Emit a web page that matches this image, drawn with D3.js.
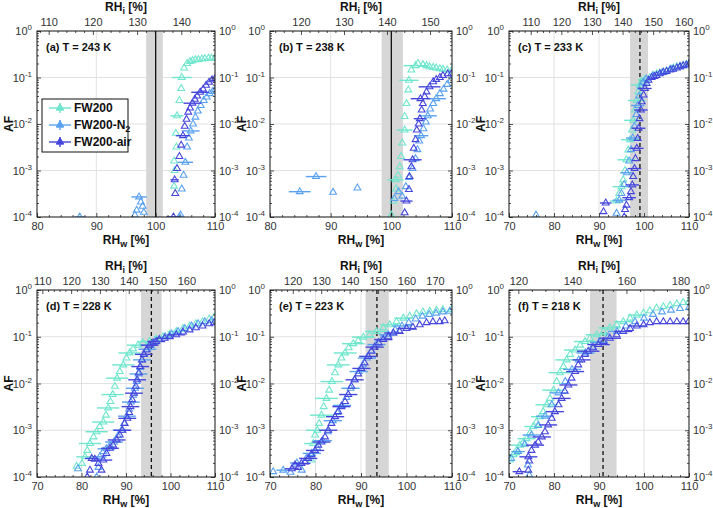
<!DOCTYPE html>
<html><head><meta charset="utf-8">
<script src="https://cdn.jsdelivr.net/npm/d3@7"></script>
<style>body{margin:0;background:#fff}svg text{font-family:"Liberation Sans",Arial,sans-serif}</style>
</head><body><svg id="c" width="713" height="508"></svg>
<script>
// ---------- data ----------
const seriesNames = ["FW200", "FW200-N2", "FW200-air"];
const seriesColors = ["#6fe6cd", "#5aa2f0", "#4646dc"];
const panelTitles = ["(a) T = 243 K", "(b) T = 238 K", "(c) T = 233 K", "(d) T = 228 K", "(e) T = 223 K", "(f) T = 218 K"];
const rhwDomains = [[80,110],[80,110],[70,110],[70,110],[70,110],[70,110]];
const rhwTicks = [[80,90,100,110],[80,90,100,110],[70,80,90,100,110],[70,80,90,100,110],[70,80,90,100,110],[70,80,90,100,110]];
const iceRatio = [1.342, 1.41, 1.47, 1.545, 1.60, 1.665];   // RHi / RHw
const rhiTicks = [[110,120,130,140],[120,130,140,150],[110,120,130,140,150,160],[110,120,130,140,150,160],[120,130,140,150,160,170],[120,140,160,180]];
const rhiMinorStep = [2,2,2,2,2,5];
const afTicks = [1e-4, 1e-3, 1e-2, 1e-1, 1];
const afTickExp = ["-4","-3","-2","-1","0"];
const bandLo = [98.4, 98.4, 96.9, 93.4, 91.0, 88.0];
const bandHi = [101.2, 101.9, 100.9, 98.0, 96.1, 93.9];
const vLine = [100, 100, 99.1, 95.7, 93.5, 90.9];
const vLineDashed = [false, false, true, true, true, true];

// [RHw %, AF, RHw error half-width]
const a_FW200 = [[103.1,4.6e-4,0],[103.2,1.0e-3,0],[103.1,1.6e-3,0],[103.5,3.2e-3,0],[103.4,6.3e-3,0],[103.6,1.5e-2,1.1],[104.0,3.2e-2,0],[104.3,5.8e-2,0],[104.4,1.0e-1,1.7],[104.8,1.6e-1,0],[105.3,2.0e-1,0],[105.8,2.2e-1,0],[106.2,2.3e-1,0],[106.7,2.4e-1,0],[107.2,2.45e-1,0],[107.8,2.5e-1,0],[108.3,2.55e-1,0],[108.9,2.6e-1,0],[109.4,2.6e-1,0],[110.0,2.6e-1,0]];
const a_N2 = [[87.2,1.0e-4,0.8],[96.5,1.1e-4,0],[96.8,1.4e-4,0],[97.2,2.7e-4,1.3],[97.5,2.1e-4,0],[97.8,1.7e-4,0],[98.0,1.26e-4,0],[104.0,1.0e-4,0],[104.2,1.1e-4,0],[104.4,4.0e-4,0],[104.7,7.9e-4,0],[105.0,1.5e-3,1.3],[105.3,3.2e-3,0],[105.6,5.0e-3,0],[105.9,7.1e-3,1.5],[106.3,1.0e-2,0],[106.7,1.4e-2,0],[107.1,1.9e-2,0],[107.6,2.5e-2,0],[108.1,3.2e-2,0],[108.6,3.8e-2,0],[109.1,4.5e-2,0],[109.6,5.0e-2,0],[110.0,5.4e-2,0]];
const a_air = [[103.0,1.0e-4,1.2],[103.3,3.2e-4,0],[103.2,6.3e-4,0.7],[103.6,1.1e-3,0],[104.0,2.0e-3,0],[104.3,3.5e-3,0],[104.6,5.6e-3,1.2],[104.9,8.9e-3,0],[105.2,1.26e-2,0],[105.5,1.8e-2,0],[105.8,2.2e-2,0],[106.2,2.8e-2,1.5],[106.6,3.4e-2,0],[107.0,4.0e-2,0],[107.5,4.8e-2,1.5],[108.0,5.6e-2,0],[108.5,6.8e-2,0],[109.0,7.9e-2,0],[109.5,8.9e-2,0],[110.0,9.5e-2,0]];

const b_FW200 = [[100.0,1.1e-4,0],[100.3,2.2e-4,0],[100.8,4.0e-4,0],[100.7,6.3e-4,1.3],[101.1,7.9e-4,0],[101.4,1.2e-3,0],[101.6,2.0e-3,0],[101.8,3.9e-3,0],[102.2,7.4e-3,1.3],[102.2,1.45e-2,0],[102.5,2.75e-2,0],[102.8,5.4e-2,0],[102.9,8.7e-2,1.6],[103.3,1.45e-1,0],[104.0,1.8e-1,2.0],[104.4,2.0e-1,0],[105.2,1.9e-1,0],[105.8,1.8e-1,0],[106.3,1.7e-1,0],[106.9,1.65e-1,0],[107.4,1.6e-1,0],[108.0,1.55e-1,0],[108.5,1.5e-1,0],[109.2,1.45e-1,0],[109.9,1.4e-1,0]];
const b_N2 = [[84.9,3.5e-4,1.8],[87.6,7.4e-4,1.7],[90.4,3.4e-4,0],[94.4,4.2e-4,0],[100.5,2.5e-4,0],[101.2,3.5e-4,0],[101.8,2.8e-4,0],[102.4,4.5e-4,0],[102.9,7.1e-4,0],[103.5,1.1e-3,0],[104.0,1.8e-3,0],[104.3,2.8e-3,0],[104.6,4.3e-3,0],[104.9,5.6e-3,1.2],[105.3,7.9e-3,0],[105.7,1.1e-2,0],[106.0,1.5e-2,1.5],[106.4,2.1e-2,0],[106.9,2.75e-2,0],[107.4,3.5e-2,1.6],[108.0,4.5e-2,0],[108.6,5.6e-2,0],[109.2,7.1e-2,0],[109.8,8.7e-2,0]];
const b_air = [[102.2,1.23e-4,0],[102.5,2.2e-4,1.0],[102.9,3.9e-4,0],[103.0,7.4e-4,0],[103.3,1.2e-3,0],[103.5,1.7e-3,1.5],[103.7,3.0e-3,0],[104.0,4.6e-3,0],[104.2,7.4e-3,0],[104.5,1.0e-2,0],[104.7,1.3e-2,1.0],[105.0,2.0e-2,0],[105.2,2.75e-2,0],[104.8,3.5e-2,1.6],[105.5,3.9e-2,0],[105.8,4.9e-2,0],[106.3,6.3e-2,1.8],[106.9,8.1e-2,0],[107.4,9.1e-2,0],[108.0,1.0e-1,0],[108.5,1.1e-1,0],[109.3,1.2e-1,0],[109.9,1.2e-1,0]];

const c_FW200 = [[93.9,2.2e-4,1.5],[94.5,3.2e-4,0],[95.0,4.5e-4,2.0],[95.4,6.3e-4,0],[95.8,1.0e-3,0],[96.1,1.7e-3,2.0],[96.5,2.75e-3,0],[96.9,4.6e-3,2.0],[97.3,7.4e-3,0],[97.6,1.2e-2,2.0],[98.0,2.0e-2,0],[98.4,3.2e-2,2.0],[98.7,4.9e-2,0],[99.1,6.9e-2,2.0],[99.5,8.3e-2,0],[100.2,9.1e-2,1.5],[101.3,1.0e-1,0],[102.0,1.1e-1,0],[102.8,1.2e-1,0],[103.5,1.25e-1,0],[104.3,1.3e-1,0],[105.0,1.4e-1,0],[105.8,1.5e-1,0],[106.5,1.6e-1,0],[107.3,1.7e-1,0],[108.0,1.75e-1,0],[108.7,1.8e-1,0],[109.4,1.9e-1,0],[110.0,2.0e-1,0]];
const c_N2 = [[76.0,1.1e-4,0],[93.9,1.2e-4,0],[94.5,2.3e-4,1.5],[95.0,3.2e-4,0],[95.6,5.0e-4,0],[96.2,8.9e-4,1.5],[96.7,1.6e-3,0],[97.1,2.8e-3,0],[97.5,5.0e-3,1.5],[97.9,8.9e-3,0],[98.3,1.6e-2,0],[98.6,2.5e-2,1.5],[98.9,4.0e-2,0],[99.3,6.3e-2,0],[99.8,7.9e-2,0],[100.5,9.3e-2,0],[102.0,1.1e-1,0],[104.0,1.26e-1,0],[106.0,1.5e-1,0],[108.0,1.7e-1,0],[110.0,1.9e-1,0]];
const c_air = [[91.0,1.3e-4,0],[91.5,2.0e-4,1.3],[95.6,1.0e-4,0],[95.8,1.45e-4,0],[96.1,1.8e-4,0],[96.7,2.6e-4,1.5],[97.1,3.5e-4,0],[97.4,4.9e-4,1.5],[97.6,7.4e-4,0],[97.9,1.1e-3,1.5],[98.1,1.8e-3,0],[98.4,3.0e-3,1.5],[98.6,4.9e-3,0],[98.8,8.1e-3,1.5],[99.0,1.3e-2,0],[99.3,2.0e-2,1.5],[99.5,3.0e-2,0],[99.9,4.2e-2,0],[100.2,5.8e-2,1.5],[100.6,7.4e-2,0],[101.0,8.7e-2,0],[101.7,1.0e-1,0],[102.3,1.05e-1,0],[102.8,1.1e-1,0],[103.5,1.2e-1,0],[104.3,1.3e-1,0],[105.0,1.35e-1,0],[105.8,1.45e-1,0],[106.5,1.5e-1,0],[107.3,1.6e-1,0],[108.0,1.7e-1,0],[108.7,1.8e-1,0],[109.4,1.85e-1,0],[110.0,1.95e-1,0]];

const d_FW200 = [[78.9,1.7e-4,0],[80.1,1.95e-4,0],[80.8,2.7e-4,2.0],[81.3,3.7e-4,0],[81.9,5.2e-4,2.5],[82.7,7.2e-4,0],[83.4,9.3e-4,2.5],[84.1,1.2e-3,0],[84.9,1.5e-3,2.5],[85.5,2.1e-3,0],[86.0,3.0e-3,2.5],[86.5,4.1e-3,0],[87.0,5.8e-3,2.5],[87.5,8.7e-3,0],[88.0,1.3e-2,2.5],[88.6,1.8e-2,0],[89.4,2.5e-2,2.5],[90.1,3.5e-2,0],[90.8,4.5e-2,2.5],[91.6,5.5e-2,0],[92.7,6.6e-2,2.5],[93.8,7.4e-2,0],[95.3,7.9e-2,2.5],[96.8,8.9e-2,0],[98.3,1.0e-1,2.0],[99.8,1.1e-1,0],[101.3,1.3e-1,2.0],[102.8,1.5e-1,0],[104.3,1.7e-1,0],[105.7,1.9e-1,0],[107.2,2.1e-1,0],[108.7,2.4e-1,0],[109.8,2.6e-1,0]];
const d_N2 = [[79.2,1.5e-4,0],[83.4,1.0e-4,0],[83.8,1.6e-4,0],[84.1,2.7e-4,1.5],[84.9,3.5e-4,0],[85.6,4.0e-4,2.0],[86.4,4.7e-4,0],[87.3,5.6e-4,2.0],[88.2,7.6e-4,0],[89.0,1.0e-3,2.0],[89.6,1.4e-3,0],[90.2,2.0e-3,2.0],[90.7,2.8e-3,0],[91.1,4.0e-3,2.0],[91.6,5.6e-3,0],[92.0,7.9e-3,2.0],[92.4,1.1e-2,0],[92.8,1.6e-2,2.0],[93.2,2.2e-2,0],[93.6,3.2e-2,2.0],[94.1,4.2e-2,0],[94.8,5.4e-2,2.0],[95.6,6.6e-2,0],[96.5,7.6e-2,0],[97.5,8.7e-2,0],[98.8,1.0e-1,0],[100.2,1.15e-1,0],[101.7,1.3e-1,0],[103.2,1.5e-1,0],[104.7,1.7e-1,0],[106.2,1.9e-1,0],[107.7,2.1e-1,0],[109.2,2.2e-1,0]];
const d_air = [[81.3,1.0e-4,0],[81.9,1.4e-4,0],[82.3,2.5e-4,1.5],[83.0,2.4e-4,0],[83.8,1.95e-4,0],[84.5,1.4e-4,0],[84.9,2.3e-4,2.0],[85.6,3.2e-4,0],[86.4,4.1e-4,2.0],[87.1,4.8e-4,0],[87.9,6.2e-4,2.0],[88.6,7.9e-4,0],[89.2,1.0e-3,2.0],[89.7,1.4e-3,0],[90.3,1.8e-3,2.0],[90.7,2.4e-3,0],[91.0,3.2e-3,2.0],[91.4,4.5e-3,0],[91.8,6.2e-3,2.0],[92.2,8.7e-3,0],[92.5,1.2e-2,2.0],[92.9,1.7e-2,0],[93.2,2.3e-2,2.0],[93.6,3.2e-2,0],[94.0,4.2e-2,2.0],[94.6,5.2e-2,0],[95.3,6.6e-2,2.0],[96.1,7.4e-2,0],[96.8,7.9e-2,2.0],[97.5,8.7e-2,0],[98.7,9.3e-2,2.0],[99.8,1.0e-1,0],[101.3,1.1e-1,2.0],[102.8,1.26e-1,0],[104.3,1.4e-1,0],[105.7,1.55e-1,0],[107.2,1.7e-1,0],[108.7,1.9e-1,0],[109.8,2.0e-1,0]];

const e_FW200 = [[79.1,2.3e-4,0],[79.5,5.2e-4,2.0],[79.9,7.9e-4,0],[80.4,1.0e-3,2.5],[80.8,1.4e-3,0],[81.3,2.1e-3,2.5],[81.8,3.2e-3,0],[82.4,4.8e-3,2.5],[83.0,7.2e-3,0],[83.6,1.1e-2,2.5],[84.3,1.7e-2,0],[85.0,2.5e-2,2.5],[85.7,3.5e-2,0],[86.5,4.5e-2,2.5],[87.3,5.8e-2,0],[88.3,7.1e-2,2.5],[89.4,8.3e-2,0],[90.5,9.8e-2,2.5],[91.9,1.1e-1,0],[93.4,1.3e-1,2.5],[94.9,1.55e-1,0],[96.3,1.8e-1,2.0],[97.8,2.1e-1,0],[99.3,2.5e-1,2.0],[100.7,2.75e-1,0],[102.2,3.1e-1,0],[103.6,3.4e-1,0],[105.1,3.5e-1,0],[106.6,3.7e-1,0],[108.0,3.8e-1,0],[109.9,3.8e-1,0]];
const e_N2 = [[70.7,1.3e-4,0],[72.9,1.4e-4,1.5],[74.5,1.26e-4,0],[75.9,2.0e-4,1.5],[77.0,1.4e-4,0],[78.0,2.5e-4,0],[79.2,3.2e-4,2.0],[80.4,4.2e-4,0],[81.6,6.0e-4,2.0],[82.7,9.3e-4,0],[83.8,1.6e-3,2.0],[84.8,2.4e-3,0],[85.8,3.4e-3,2.0],[86.8,5.0e-3,0],[87.7,7.9e-3,2.0],[88.6,1.2e-2,0],[89.5,1.8e-2,2.0],[90.4,2.5e-2,0],[91.3,3.5e-2,2.0],[92.3,5.0e-2,0],[93.4,6.8e-2,2.0],[94.6,8.9e-2,0],[96.0,1.1e-1,2.0],[97.5,1.4e-1,0],[99.0,1.7e-1,2.0],[100.5,2.0e-1,0],[102.0,2.4e-1,0],[103.5,2.75e-1,0],[105.0,3.0e-1,0],[106.5,3.2e-1,0],[108.0,3.4e-1,0],[109.5,3.5e-1,0]];
const e_air = [[74.8,1.5e-4,1.5],[75.5,1.8e-4,0],[76.2,1.6e-4,0],[76.9,1.95e-4,2.0],[77.7,2.1e-4,0],[78.4,2.5e-4,2.0],[79.1,3.0e-4,0],[79.9,3.7e-4,2.0],[80.6,4.8e-4,0],[81.3,5.6e-4,2.0],[82.1,7.2e-4,0],[82.8,1.0e-3,2.0],[83.5,1.4e-3,0],[84.3,1.95e-3,2.0],[85.0,2.5e-3,0],[85.7,3.2e-3,2.0],[86.5,4.1e-3,0],[87.2,5.8e-3,2.0],[87.9,8.7e-3,0],[88.6,1.2e-2,2.0],[89.4,1.6e-2,0],[90.1,2.1e-2,2.0],[90.8,2.75e-2,0],[91.6,3.8e-2,2.0],[92.3,4.9e-2,0],[93.0,6.0e-2,2.0],[93.9,7.4e-2,0],[94.9,8.7e-2,2.0],[96.0,1.0e-1,0],[97.1,1.2e-1,2.0],[98.5,1.3e-1,0],[100.0,1.5e-1,2.0],[101.4,1.6e-1,0],[102.9,1.8e-1,0],[104.4,2.0e-1,0],[105.8,2.1e-1,0],[107.3,2.1e-1,0],[108.4,2.2e-1,0]];

const f_FW200 = [[70.2,2.3e-4,0],[71.0,3.0e-4,1.5],[71.7,3.7e-4,0],[72.4,4.8e-4,2.0],[73.2,5.6e-4,0],[73.9,6.6e-4,2.0],[74.7,8.9e-4,0],[75.4,1.2e-3,2.0],[76.1,1.5e-3,0],[76.9,1.95e-3,2.0],[77.6,2.5e-3,0],[78.4,3.5e-3,2.5],[79.1,4.8e-3,0],[79.9,7.2e-3,2.5],[80.6,1.1e-2,0],[81.3,1.7e-2,2.5],[82.1,2.3e-2,0],[82.8,3.2e-2,2.5],[83.6,4.2e-2,0],[84.7,5.2e-2,2.5],[85.8,6.6e-2,0],[86.9,7.9e-2,2.5],[88.0,9.3e-2,0],[89.5,1.1e-1,2.5],[91.0,1.3e-1,0],[92.4,1.55e-1,2.5],[93.9,1.8e-1,0],[95.4,2.1e-1,2.0],[96.9,2.5e-1,0],[98.4,2.9e-1,2.0],[99.9,3.2e-1,0],[101.3,3.6e-1,0],[102.8,4.1e-1,0],[104.3,4.4e-1,0],[105.8,4.7e-1,0],[107.3,5.1e-1,0],[108.7,5.4e-1,0],[109.9,5.5e-1,0]];
const f_N2 = [[70.5,2.5e-4,0],[72.0,3.5e-4,1.5],[73.5,5.0e-4,0],[74.2,1.8e-4,0],[74.5,1.1e-4,0],[75.0,7.9e-4,2.0],[76.5,1.26e-3,0],[78.0,2.0e-3,2.0],[79.5,3.5e-3,0],[81.0,6.3e-3,2.0],[82.5,1.1e-2,0],[84.0,2.0e-2,2.0],[85.5,3.2e-2,0],[87.0,4.5e-2,2.0],[88.5,6.0e-2,0],[90.0,7.6e-2,2.0],[92.0,1.0e-1,0],[94.0,1.3e-1,2.0],[96.0,1.7e-1,0],[98.0,2.1e-1,0],[100.0,2.5e-1,0],[102.0,3.0e-1,0],[104.0,3.4e-1,0],[106.0,3.7e-1,0],[108.0,4.0e-1,0],[110.0,4.2e-1,0]];
const f_air = [[72.3,1.3e-4,1.5],[74.3,1.4e-4,0],[74.5,2.2e-4,0],[74.3,2.7e-4,2.0],[75.0,3.7e-4,0],[75.8,4.8e-4,2.0],[76.5,5.6e-4,0],[77.3,7.2e-4,2.0],[78.0,9.3e-4,0],[78.7,1.3e-3,2.0],[79.5,1.8e-3,0],[80.2,2.5e-3,2.0],[81.0,3.5e-3,0],[81.7,4.8e-3,2.0],[82.4,6.8e-3,0],[83.2,9.3e-3,2.0],[83.9,1.3e-2,0],[84.7,1.8e-2,2.0],[85.4,2.5e-2,0],[86.1,3.2e-2,2.0],[86.9,4.2e-2,0],[87.6,4.9e-2,2.5],[88.7,5.8e-2,0],[89.9,6.8e-2,2.5],[91.0,7.9e-2,0],[92.4,9.3e-2,2.5],[93.9,1.1e-1,0],[95.4,1.3e-1,2.0],[96.9,1.5e-1,0],[98.4,1.7e-1,2.0],[99.9,1.8e-1,0],[101.3,2.0e-1,0],[102.8,2.1e-1,0],[104.3,2.1e-1,0],[105.8,2.1e-1,0],[107.3,2.1e-1,0],[108.7,2.1e-1,0],[109.9,2.1e-1,0]];

const panelSeries = [[a_FW200,a_N2,a_air],[b_FW200,b_N2,b_air],[c_FW200,c_N2,c_air],[d_FW200,d_N2,d_air],[e_FW200,e_N2,e_air],[f_FW200,f_N2,f_air]];

// ---------- layout ----------
const colL = [37, 270, 509], colR = [215, 452, 689];
const rowT = [31, 290], rowB = [217, 477];
const tickCol = "#262626";
const svg = d3.select("#c");

function styleAxis(g){
  g.select(".domain").remove();
  g.selectAll(".tick line").attr("stroke", tickCol).attr("stroke-width", 0.8);
  g.selectAll("text").attr("font-family", '"Liberation Sans",Arial,sans-serif').attr("font-size", 11).attr("fill", "#333");
}

panelSeries.forEach((series, i) => {
  const c = i % 3, r = Math.floor(i / 3);
  const L = colL[c], R = colR[c], T = rowT[r], B = rowB[r];
  const dom = rhwDomains[i];
  const x = d3.scaleLinear().domain(dom).range([L, R]);
  const xi = d3.scaleLinear().domain([dom[0]*iceRatio[i], dom[1]*iceRatio[i]]).range([L, R]);
  const y = d3.scaleLog().domain([1e-4, 1]).range([B, T]);
  const g = svg.append("g");

  // grid
  g.append("g").selectAll("line").data(rhwTicks[i].filter(v => v > dom[0] && v < dom[1])).join("line")
    .attr("x1", d => x(d)).attr("x2", d => x(d)).attr("y1", T).attr("y2", B)
    .attr("stroke", "#e2e2e2").attr("stroke-width", 1);
  g.append("g").selectAll("line").data(afTicks.slice(1, 4)).join("line")
    .attr("x1", L).attr("x2", R).attr("y1", d => y(d)).attr("y2", d => y(d))
    .attr("stroke", "#e2e2e2").attr("stroke-width", 1);

  // shaded band + line
  g.append("rect").attr("x", x(bandLo[i])).attr("y", T).attr("width", x(bandHi[i]) - x(bandLo[i])).attr("height", B - T)
    .attr("fill", "#d6d6d6");
  g.append("line").attr("x1", x(vLine[i])).attr("x2", x(vLine[i])).attr("y1", T).attr("y2", B)
    .attr("stroke", "#111").attr("stroke-width", 1.3).attr("stroke-dasharray", vLineDashed[i] ? "4,3" : null);

  // data
  const cid = "clip" + i;
  svg.append("clipPath").attr("id", cid).append("rect").attr("x", L).attr("y", T).attr("width", R - L).attr("height", B - T);
  const dg = g.append("g").attr("clip-path", `url(#${cid})`);
  const tri = d3.symbol(d3.symbolTriangle, 20);
  series.forEach((s, k) => {
    const sg = dg.append("g");
    sg.selectAll("line").data(s.filter(d => d[2] > 0)).join("line")
      .attr("x1", d => x(d[0] - d[2])).attr("x2", d => x(d[0] + d[2]))
      .attr("y1", d => y(d[1])).attr("y2", d => y(d[1]))
      .attr("stroke", seriesColors[k]).attr("stroke-width", 1.4);
    sg.selectAll("path").data(s).join("path")
      .attr("d", tri).attr("transform", d => `translate(${x(d[0])},${y(d[1])})`)
      .attr("fill", "none").attr("stroke", seriesColors[k]).attr("stroke-width", 1.1);
  });

  // axes
  const bMinor = d3.range(dom[0], dom[1] + 0.01, 2).filter(v => !rhwTicks[i].includes(v));
  g.append("g").attr("transform", `translate(0,${B})`)
    .call(d3.axisBottom(x).tickValues(rhwTicks[i]).tickSize(-4).tickPadding(5)).call(styleAxis);
  g.append("g").attr("transform", `translate(0,${B})`)
    .call(d3.axisBottom(x).tickValues(bMinor).tickSize(-2).tickFormat("")).call(styleAxis);
  const xiDom = xi.domain();
  const tMinor = d3.range(Math.ceil(xiDom[0] / rhiMinorStep[i]) * rhiMinorStep[i], xiDom[1], rhiMinorStep[i]).filter(v => !rhiTicks[i].includes(v));
  g.append("g").attr("transform", `translate(0,${T})`)
    .call(d3.axisTop(xi).tickValues(rhiTicks[i]).tickSize(-4).tickPadding(5)).call(styleAxis);
  g.append("g").attr("transform", `translate(0,${T})`)
    .call(d3.axisTop(xi).tickValues(tMinor).tickSize(-2).tickFormat("")).call(styleAxis);
  const yMinor = [];
  for (let e = -4; e < 0; e++) for (let m = 2; m <= 9; m++) yMinor.push(m * Math.pow(10, e));
  [[d3.axisLeft, L], [d3.axisRight, R]].forEach(([ax, pos]) => {
    g.append("g").attr("transform", `translate(${pos},0)`)
      .call(ax(y).tickValues(afTicks).tickSize(-4).tickFormat("")).call(styleAxis);
    g.append("g").attr("transform", `translate(${pos},0)`)
      .call(ax(y).tickValues(yMinor).tickSize(-2).tickFormat("")).call(styleAxis);
  });
  // y tick labels with superscripts
  [[L - 5, "end"], [R + 4, "start"]].forEach(([px, anchor]) => {
    afTicks.forEach((v, j) => {
      const t = g.append("text").attr("x", px).attr("y", y(v) + 4).attr("text-anchor", anchor)
        .attr("font-size", 11).attr("fill", "#333");
      t.append("tspan").text("10");
      t.append("tspan").attr("dy", -5).attr("font-size", 8).text(afTickExp[j]);
    });
  });

  // frame
  g.append("rect").attr("x", L).attr("y", T).attr("width", R - L).attr("height", B - T)
    .attr("fill", "none").attr("stroke", "#111").attr("stroke-width", 1);

  // titles and labels
  g.append("text").attr("x", L + 9).attr("y", T + 20).attr("font-size", 11).attr("font-weight", "bold").attr("fill", "#111").text(panelTitles[i]);
  const cx = (L + R) / 2;
  const xl = g.append("text").attr("x", cx).attr("y", B + 27).attr("text-anchor", "middle").attr("font-size", 12).attr("font-weight", "bold").attr("fill", "#111");
  xl.append("tspan").text("RH"); xl.append("tspan").attr("dy", 3).attr("font-size", 9).text("w"); xl.append("tspan").attr("dy", -3).text(" [%]");
  const tl = g.append("text").attr("x", cx).attr("y", T - 20).attr("text-anchor", "middle").attr("font-size", 12).attr("font-weight", "bold").attr("fill", "#111");
  tl.append("tspan").text("RH"); tl.append("tspan").attr("dy", 3).attr("font-size", 9).text("i"); tl.append("tspan").attr("dy", -3).text(" [%]");
  g.append("text").attr("transform", `translate(${L - 24},${(T + B) / 2}) rotate(-90)`).attr("text-anchor", "middle")
    .attr("font-size", 12).attr("font-weight", "bold").attr("fill", "#111").text("AF");

  // legend in panel (a)
  if (i === 0) {
    const lg = g.append("g");
    lg.append("rect").attr("x", 42).attr("y", 99).attr("width", 86).attr("height", 53).attr("fill", "#fff").attr("stroke", "#111").attr("stroke-width", 1);
    seriesNames.forEach((n, k) => {
      const ly = 108 + k * 17;
      lg.append("line").attr("x1", 49).attr("x2", 71).attr("y1", ly).attr("y2", ly).attr("stroke", seriesColors[k]).attr("stroke-width", 1.4);
      lg.append("line").attr("x1", 60).attr("x2", 60).attr("y1", ly - 5).attr("y2", ly + 5).attr("stroke", seriesColors[k]).attr("stroke-width", 1.4);
      lg.append("path").attr("d", d3.symbol(d3.symbolTriangle, 24)).attr("transform", `translate(60,${ly})`).attr("fill", seriesColors[k]).attr("stroke", seriesColors[k]);
      const t = lg.append("text").attr("x", 74).attr("y", ly + 4).attr("font-size", 12).attr("font-weight", "bold").attr("fill", "#111");
      if (n === "FW200-N2") { t.append("tspan").text("FW200-N"); t.append("tspan").attr("dy", 3).attr("font-size", 9).text("2"); }
      else t.text(n);
    });
  }
});
</script>
</body></html>
